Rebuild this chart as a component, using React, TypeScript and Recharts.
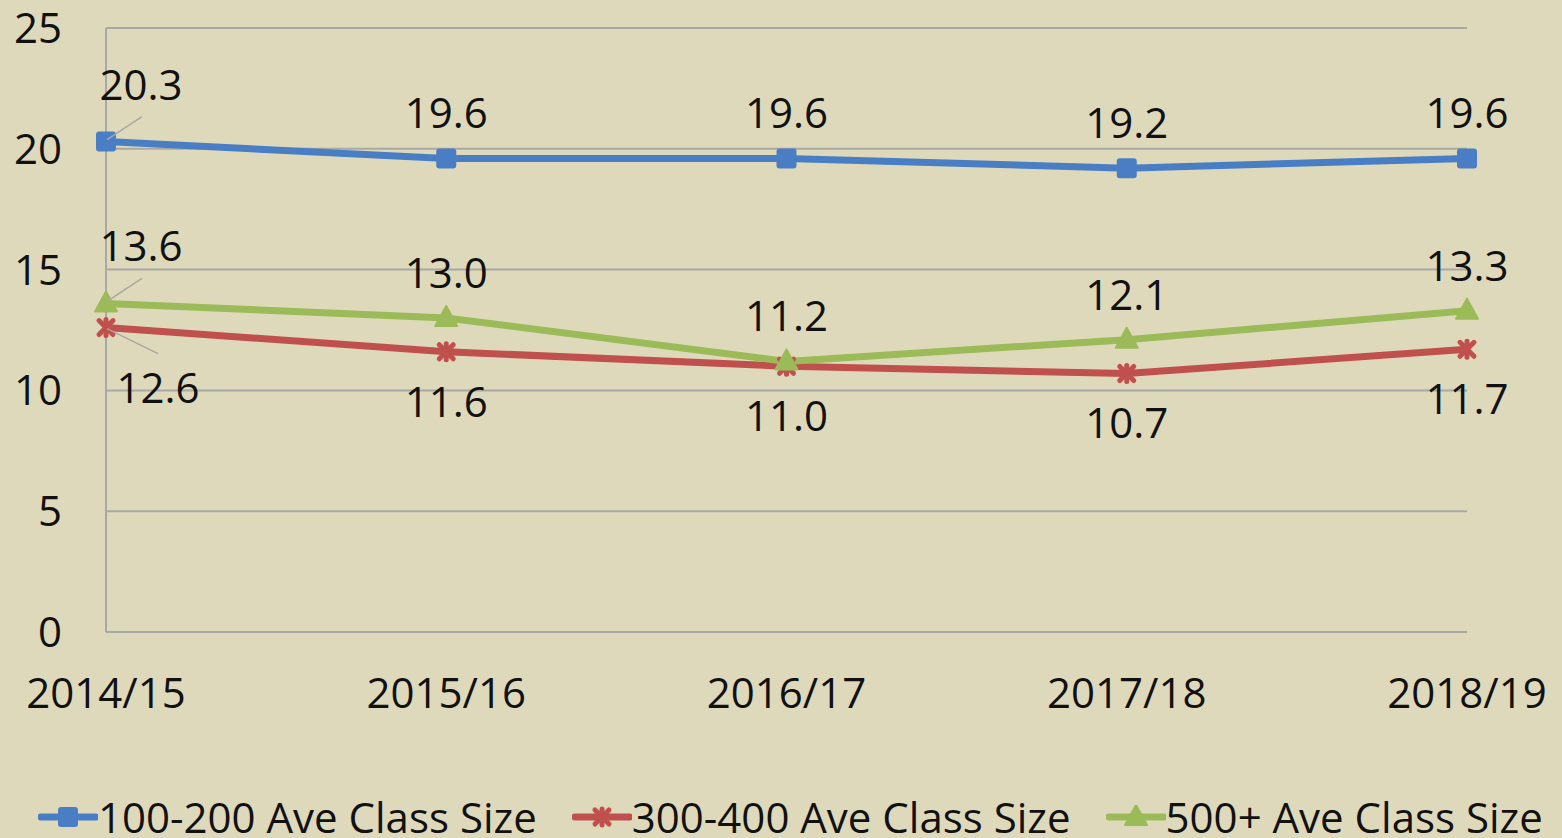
import React from 'react';
import {
  LineChart,
  Line,
  XAxis,
  YAxis,
  CartesianGrid,
  LabelList,
} from 'recharts';

const years = ['2014/15', '2015/16', '2016/17', '2017/18', '2018/19'];
const small = [20.3, 19.6, 19.6, 19.2, 19.6];
const medium = [12.6, 11.6, 11.0, 10.7, 11.7];
const large = [13.6, 13.0, 11.2, 12.1, 13.3];
const yTicks = [0, 5, 10, 15, 20, 25];

const BLUE = '#4a7ec4';
const RED = '#c0504d';
const GREEN = '#9bbb59';
const BG = '#dfd9bc';
const GRID = '#a8a8a4';
const FONT = '"Open Sans", sans-serif';
const FS = 42;

const data = years.map((year, i) => ({
  year,
  small: small[i],
  medium: medium[i],
  large: large[i],
}));

const series = [
  { key: 'small', name: '100-200 Ave Class Size', color: BLUE, marker: 'square' },
  { key: 'medium', name: '300-400 Ave Class Size', color: RED, marker: 'star' },
  { key: 'large', name: '500+ Ave Class Size', color: GREEN, marker: 'triangle' },
];

const Marker = ({ cx, cy, type, color }: { cx: number; cy: number; type: string; color: string }) => {
  if (type === 'square') {
    return <rect x={cx - 10} y={cy - 10} width={20} height={20} rx={3} fill={color} />;
  }
  if (type === 'triangle') {
    return <polygon points={`${cx},${cy - 12} ${cx + 11},${cy + 8} ${cx - 11},${cy + 8}`} fill={color} stroke={color} strokeWidth={2} strokeLinejoin="round" />;
  }
  return (
    <g stroke={color} strokeWidth={5} strokeLinecap="round">
      <line x1={cx - 7} y1={cy - 7} x2={cx + 7} y2={cy + 7} />
      <line x1={cx - 7} y1={cy + 7} x2={cx + 7} y2={cy - 7} />
      <line x1={cx} y1={cy - 8} x2={cx} y2={cy + 8} />
    </g>
  );
};

const makeDot = (type: string, color: string) => (props: any) => {
  const { cx, cy, index } = props;
  if (cx == null || cy == null) return <g key={index} />;
  return <Marker key={index} cx={cx} cy={cy} type={type} color={color} />;
};

// labels: first point sits against the axis so Excel pushed it right with a leader line
const makeLabel = (below: boolean) => (props: any) => {
  const { x, y, value, index } = props;
  const first = index === 0;
  const dx = first ? (below ? 52 : 35) : 0;
  const dy = below ? (first ? 75 : 65) : first ? -42 : -30;
  return (
    <g>
      {first && (
        <line
          x1={x + 1}
          y1={y + (below ? 1 : -2)}
          x2={x + (below ? 52 : 36)}
          y2={y + (below ? 26 : -25)}
          stroke={GRID}
          strokeWidth={1.5}
        />
      )}
      <text x={x + dx} y={y + dy} textAnchor="middle" fontFamily={FONT} fontSize={FS} fill="#111">
        {Number(value).toFixed(1)}
      </text>
    </g>
  );
};

const LegendRow = () => (
  <div style={{ position: 'absolute', top: 796, left: 0, width: 1562, display: 'flex', alignItems: 'center', paddingLeft: 38, gap: 35 }}>
    {series.map((s) => (
      <div key={s.key} style={{ display: 'flex', alignItems: 'center' }}>
        <svg width={60} height={24}>
          <line x1={3} y1={12} x2={58} y2={12} stroke={s.color} strokeWidth={7} strokeLinecap="round" />
          <Marker cx={30} cy={12} type={s.marker} color={s.color} />
        </svg>
        <span style={{ fontFamily: FONT, fontSize: FS, lineHeight: '42px', color: '#111', whiteSpace: 'nowrap' }}>
          {s.name}
        </span>
      </div>
    ))}
  </div>
);

export default function App() {
  return (
    <div style={{ position: 'absolute', left: 0, top: 0, width: 1562, height: 838, background: BG, overflow: 'hidden' }}>
      <LineChart width={1562} height={838} data={data} margin={{ top: 28, right: 95, bottom: 0, left: 0 }}>
        <CartesianGrid vertical={false} stroke={GRID} strokeWidth={2} />
        <XAxis
          dataKey="year"
          axisLine={{ stroke: GRID, strokeWidth: 2 }}
          tickLine={false}
          tickMargin={40}
          height={206}
          interval={0}
          tick={{ fontFamily: FONT, fontSize: FS, fill: '#111' }}
        />
        <YAxis
          domain={[0, 25]}
          ticks={yTicks}
          width={106}
          axisLine={{ stroke: GRID, strokeWidth: 2 }}
          tickLine={false}
          tickMargin={38}
          tick={{ fontFamily: FONT, fontSize: FS, fill: '#111' }}
        />
        {series.map((s) => (
          <Line
            key={s.key}
            dataKey={s.key}
            name={s.name}
            stroke={s.color}
            strokeWidth={7}
            dot={makeDot(s.marker, s.color)}
            activeDot={false}
            isAnimationActive={false}
          >
            <LabelList dataKey={s.key} content={makeLabel(s.key === 'medium')} />
          </Line>
        ))}
      </LineChart>
      <LegendRow />
    </div>
  );
}
